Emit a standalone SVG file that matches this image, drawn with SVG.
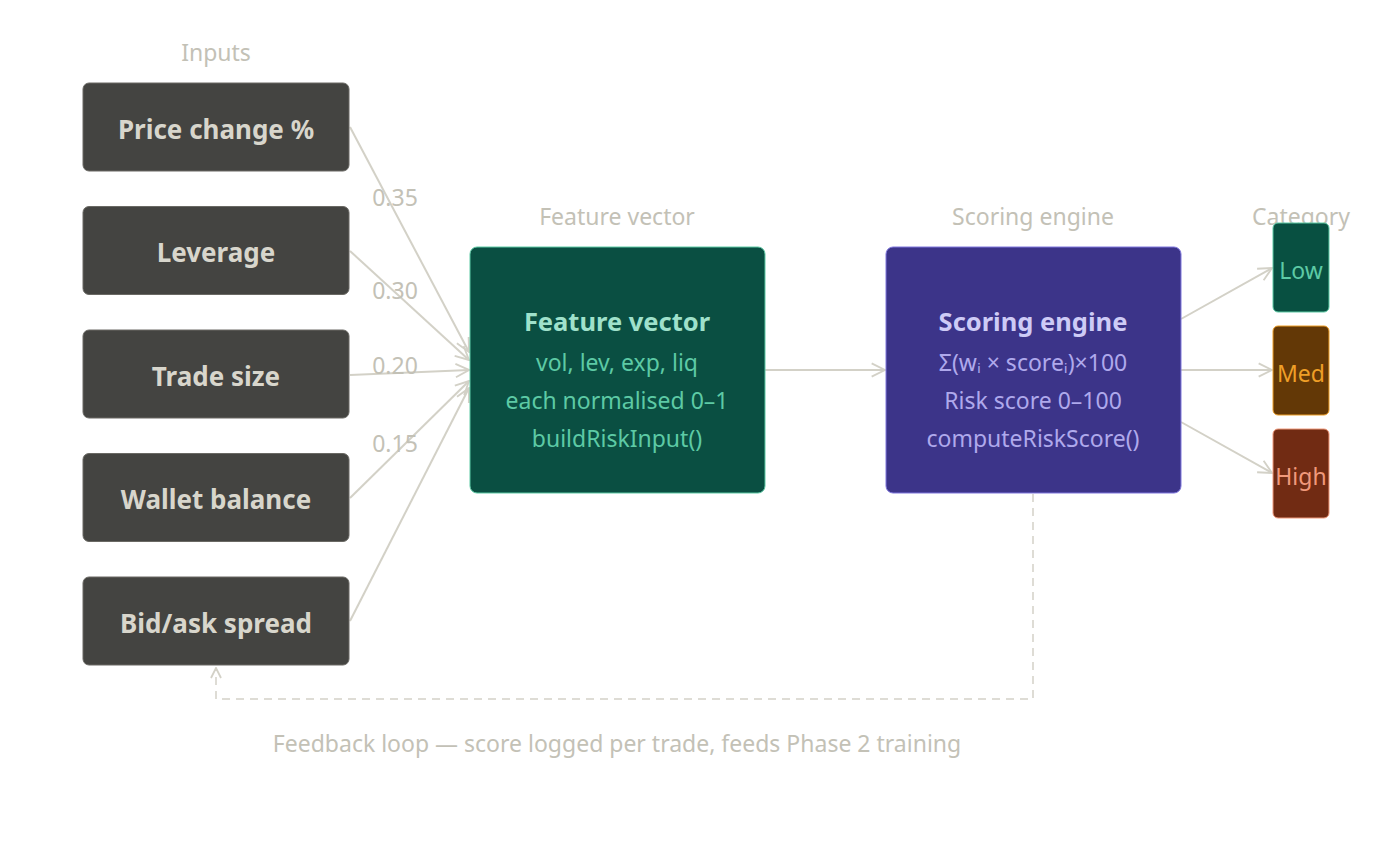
<svg xmlns="http://www.w3.org/2000/svg" width="1400" height="865" viewBox="0 0 1400 865">
<style>
text{font-family:"Noto Sans","Open Sans","DejaVu Sans",sans-serif;text-anchor:middle;dominant-baseline:central}
.hdr{font-size:23px;fill:#c3c1b6}
.wt{font-size:23px;fill:#c3c1b6}
.in rect{fill:#444441;stroke:#6a6964;stroke-width:1}
.in text{font-size:26px;font-weight:bold;fill:#d8d6cc}
.conn{stroke:#d3d1c7;stroke-width:2;fill:none}
.dash{stroke:#d3d1c7;stroke-width:1.5;fill:none;stroke-dasharray:8 6}
</style>
<defs>
<marker id="arr" viewBox="0 0 12 12" refX="11" refY="6" markerWidth="12" markerHeight="12" markerUnits="userSpaceOnUse" orient="auto">
<path d="M1,1 L11,6 L1,11" fill="none" stroke="#d3d1c7" stroke-width="1.8"/>
</marker>
<marker id="arr2" viewBox="0 0 12 12" refX="11" refY="6" markerWidth="16" markerHeight="16" markerUnits="userSpaceOnUse" orient="auto">
<path d="M1,1 L11,6 L1,11" fill="none" stroke="#d3d1c7" stroke-width="1.4"/>
</marker>
</defs>
<rect width="1400" height="865" fill="#ffffff"/>
<text class="hdr" x="216" y="52">Inputs</text>
<text class="hdr" x="617" y="216">Feature vector</text>
<text class="hdr" x="1033" y="216">Scoring engine</text>
<text class="hdr" x="1301" y="216">Category</text>
<g id="connectors">
<line class="conn" x1="350" y1="127" x2="469" y2="352" marker-end="url(#arr2)"/>
<line class="conn" x1="350" y1="251" x2="469" y2="360" marker-end="url(#arr2)"/>
<line class="conn" x1="350" y1="375" x2="469" y2="370" marker-end="url(#arr2)"/>
<line class="conn" x1="350" y1="498" x2="469" y2="381" marker-end="url(#arr2)"/>
<line class="conn" x1="350" y1="621" x2="469" y2="388" marker-end="url(#arr2)"/>
<line class="conn" x1="765" y1="370" x2="885" y2="370" marker-end="url(#arr2)"/>
<line class="conn" x1="1181" y1="319" x2="1272" y2="268" marker-end="url(#arr2)"/>
<line class="conn" x1="1181" y1="370" x2="1272" y2="370" marker-end="url(#arr2)"/>
<line class="conn" x1="1181" y1="422" x2="1272" y2="473" marker-end="url(#arr2)"/>
<path class="dash" d="M1033,494 V699 H216 V668" marker-end="url(#arr)"/>
<text class="wt" x="395" y="197">0.35</text>
<text class="wt" x="395" y="290">0.30</text>
<text class="wt" x="395" y="365">0.20</text>
<text class="wt" x="395" y="443">0.15</text>
</g>
<g id="in-price" class="in"><rect x="83" y="83" width="266" height="88" rx="6"/><text x="216" y="129">Price change %</text></g>
<g id="in-leverage" class="in"><rect x="83" y="206.5" width="266" height="88" rx="6"/><text x="216" y="252">Leverage</text></g>
<g id="in-trade" class="in"><rect x="83" y="330" width="266" height="88" rx="6"/><text x="216" y="376">Trade size</text></g>
<g id="in-wallet" class="in"><rect x="83" y="453.5" width="266" height="88" rx="6"/><text x="216" y="499">Wallet balance</text></g>
<g id="in-spread" class="in"><rect x="83" y="577" width="266" height="88" rx="6"/><text x="216" y="623">Bid/ask spread</text></g>
<g id="feature-vector">
<rect x="470" y="247" width="295" height="246" rx="7" fill="#0a4f42" stroke="#5dcaa5" stroke-width="1"/>
<text x="617" y="321" font-size="25.5" font-weight="bold" fill="#9fe1cb">Feature vector</text>
<text x="617" y="362" font-size="23" fill="#5dcaa5">vol, lev, exp, liq</text>
<text x="617" y="400" font-size="23" fill="#5dcaa5">each normalised 0–1</text>
<text x="617" y="438" font-size="23" fill="#5dcaa5">buildRiskInput()</text>
</g>
<g id="scoring-engine">
<rect x="886" y="247" width="295" height="246" rx="7" fill="#3c3489" stroke="#7f77dd" stroke-width="1"/>
<text x="1033" y="321" font-size="25.5" font-weight="bold" fill="#cecbf6">Scoring engine</text>
<text x="1033" y="362" font-size="23" fill="#afa9ec">Σ(wᵢ × scoreᵢ)×100</text>
<text x="1033" y="400" font-size="23" fill="#afa9ec">Risk score 0–100</text>
<text x="1033" y="438" font-size="23" fill="#afa9ec">computeRiskScore()</text>
</g>
<g id="cat-low">
<rect x="1273" y="223" width="56" height="89" rx="5" fill="#085041" stroke="#5dcaa5" stroke-width="1"/>
<text x="1301" y="270" font-size="23" fill="#5dcaa5">Low</text>
</g>
<g id="cat-med">
<rect x="1273" y="326" width="56" height="89" rx="5" fill="#633806" stroke="#ef9f27" stroke-width="1"/>
<text x="1301" y="373" font-size="23" fill="#ef9f27">Med</text>
</g>
<g id="cat-high">
<rect x="1273" y="429" width="56" height="89" rx="5" fill="#712b13" stroke="#f0997b" stroke-width="1"/>
<text x="1301" y="476" font-size="23" fill="#f0997b">High</text>
</g>
<text class="hdr" x="617" y="743">Feedback loop — score logged per trade, feeds Phase 2 training</text>
</svg>
